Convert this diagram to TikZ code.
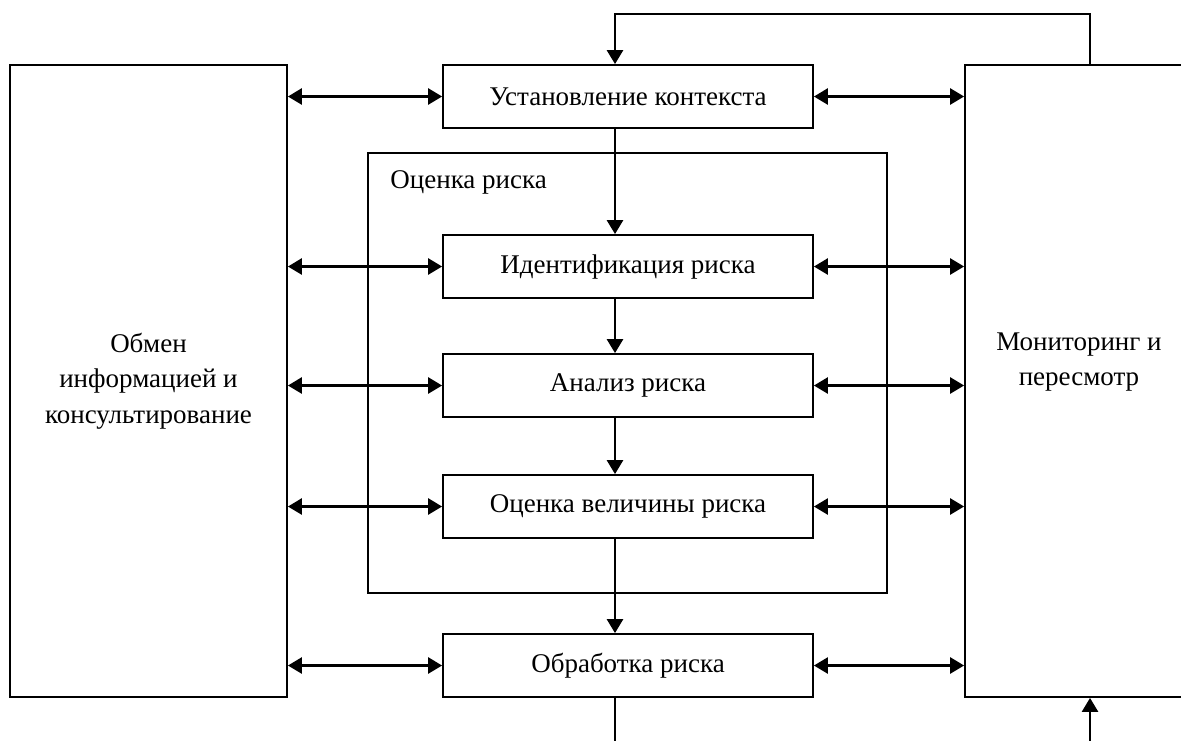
\documentclass[tikz,border=0pt]{standalone}
\usepackage{fontspec}
\setmainfont{Liberation Serif}
\usetikzlibrary{arrows.meta}

\begin{document}
\begin{tikzpicture}[x=0.5pt,y=-0.5pt,line join=miter,>={Triangle[length=7pt,width=8pt]},
  every node/.style={inner sep=0pt,font=\fontsize{13.5}{17.75}\selectfont},
  box/.style={draw,line width=0.9pt,minimum width=185pt,minimum height=31.5pt},
  frame/.style={draw,line width=0.9pt},
  link/.style={line width=1.3pt}]
  \useasboundingbox (0,0) rectangle (1181,740);
  % steps of the process
  \node[box] (ctx) at (628,96.5) {Установление контекста};
  \node[box] (ident) at (628,266.5) {Идентификация риска};
  \node[box] (anal) at (628,385.5) {Анализ риска};
  \node[box] (eval) at (628,506.5) {Оценка величины риска};
  \node[box] (treat) at (628,665.5) {Обработка риска};
  \node[frame,minimum width=259.5pt,minimum height=220pt] (assess) at (627.5,373) {};
  \node[anchor=west] (assesslbl) at (390,182) {Оценка риска};
  % side blocks
  \node[frame,minimum width=138.5pt,minimum height=316pt,align=center] (comm) at (148.5,381) {Обмен\\информацией и\\консультирование};
  \node[frame,minimum width=114pt,minimum height=316pt] (mon) at (1079,381) {};
  \node[align=center] (montxt) at (1079,362) {Мониторинг и\\пересмотр};
  \coordinate (vx) at (615,0);
  \coordinate (fx) at (1090,0);
  \coordinate (topy) at (0,14);
  \coordinate (boty) at (0,745);
  \foreach \b in {ctx,ident,anal,eval,treat} {
    \draw[link,<->] (\b.west -| comm.east) -- (\b.west);
    \draw[link,<->] (\b.east) -- (\b.east -| mon.west);
  }
  \draw[link,->] (ctx.south -| vx) -- (ident.north -| vx);
  \draw[link,->] (ident.south -| vx) -- (anal.north -| vx);
  \draw[link,->] (anal.south -| vx) -- (eval.north -| vx);
  \draw[link,->] (eval.south -| vx) -- (treat.north -| vx);
  % feedback loops
  \draw[link,->] (mon.north -| fx) |- (topy -| vx) -- (ctx.north -| vx);
  \draw[link] (treat.south -| vx) -- (boty -| vx);
  \draw[link,->] (boty -| fx) -- (mon.south -| fx);
\end{tikzpicture}
\end{document}
